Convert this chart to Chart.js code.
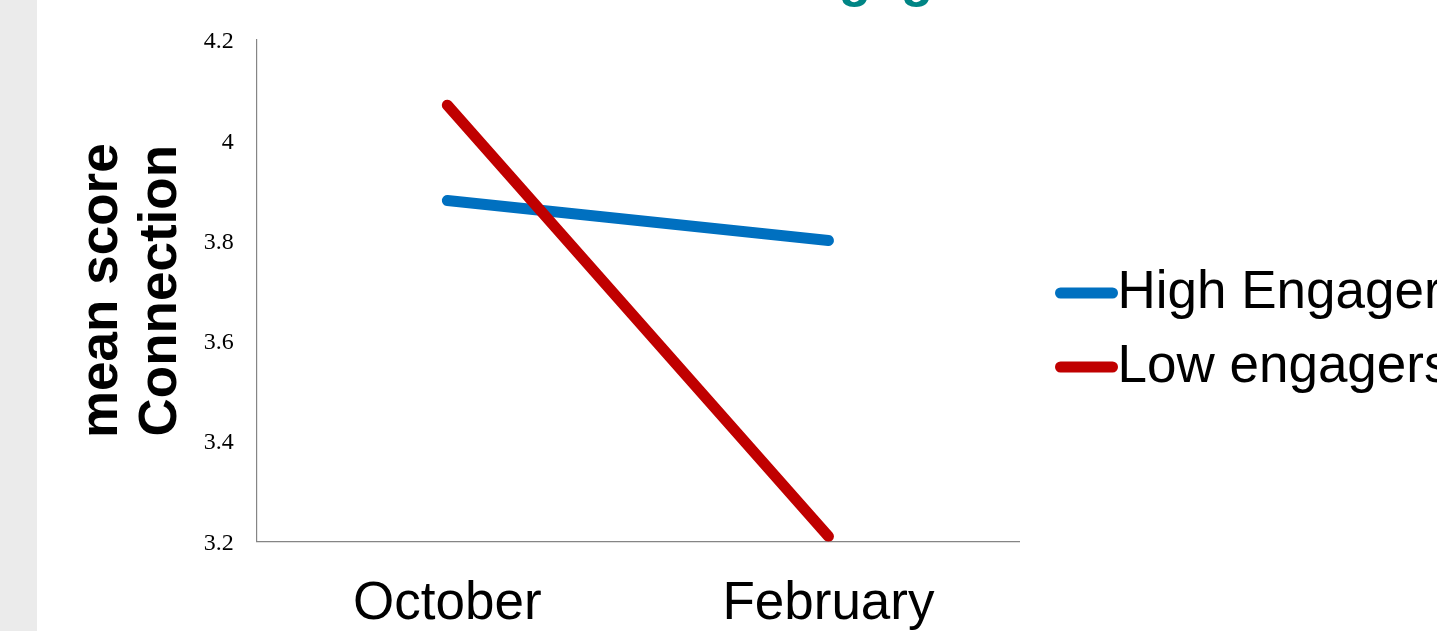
<!DOCTYPE html>
<html>
<head>
<meta charset="utf-8">
<script src="https://cdn.jsdelivr.net/npm/chart.js@4.4.1/dist/chart.umd.min.js"></script>
<style>
  html, body { margin: 0; padding: 0; width: 1437px; height: 631px; overflow: hidden; background: #fff; }
  #strip { position: absolute; left: 0; top: 0; width: 37px; height: 631px; background: #ebebeb; }
  #title { position: absolute; left: 356px; top: -49px; font: bold 53px 'Liberation Sans', Arial, sans-serif; line-height: 53px; color: #008585; white-space: nowrap; }
  #wrap { position: absolute; left: 0; top: 0; width: 1600px; height: 680px; }
</style>
</head>
<body>
<div id="strip"></div>
<div id="title">Connection and Engagement</div>
<div id="wrap"><canvas id="chart" width="1600" height="680"></canvas></div>
<script>
const months = ['October', 'February'];
const highEngagers = [3.88, 3.80];
const lowEngagers = [4.07, 3.21];
const yTicks = [3.2, 3.4, 3.6, 3.8, 4, 4.2];
const seriesNames = ['High Engagers', 'Low engagers'];
const yTitle = ['mean score', 'Connection'];

const blue = '#0070c0';
const red = '#c00000';
const axisGrey = '#858585';

// legend swatch: thick round-capped stroke that runs up to the label text
function legendLine(color) {
  const c = document.createElement('canvas');
  c.width = 107;
  c.height = 14;
  const g = c.getContext('2d');
  g.strokeStyle = color;
  g.lineWidth = 11;
  g.lineCap = 'round';
  g.beginPath();
  g.moveTo(48.5, 7);
  g.lineTo(100.5, 7);
  g.stroke();
  return c;
}

new Chart(document.getElementById('chart'), {
  type: 'line',
  data: {
    labels: months,
    datasets: [
      {
        label: seriesNames[0],
        data: highEngagers,
        borderColor: blue,
        backgroundColor: blue,
        borderWidth: 11,
        borderCapStyle: 'round',
        pointRadius: 0,
        pointHoverRadius: 0,
        pointStyle: legendLine(blue),
        order: 1
      },
      {
        label: seriesNames[1],
        data: lowEngagers,
        borderColor: red,
        backgroundColor: red,
        borderWidth: 11,
        borderCapStyle: 'round',
        pointRadius: 0,
        pointHoverRadius: 0,
        pointStyle: legendLine(red),
        order: 0
      }
    ]
  },
  options: {
    responsive: false,
    animation: false,
    // legend is wider than the window so its labels run off the right edge
    layout: { padding: { left: 0, top: 40, right: 141, bottom: 13 } },
    scales: {
      x: {
        offset: true,
        grid: { display: false, drawTicks: false },
        border: { display: true, color: axisGrey, width: 1.2 },
        ticks: {
          font: { family: 'Liberation Sans', size: 53 },
          color: '#000',
          padding: 31,
          maxRotation: 0
        }
      },
      y: {
        min: 3.2,
        max: 4.2,
        afterBuildTicks: s => { s.ticks = yTicks.map(v => ({ value: v })); },
        grid: { display: false, drawTicks: false },
        border: { display: true, color: axisGrey, width: 1.2 },
        ticks: {
          font: { family: 'Liberation Serif', size: 24 },
          color: '#000',
          padding: 23,
          labelOffset: 2,
          callback: v => String(v)
        },
        title: {
          display: true,
          text: yTitle,
          color: '#000',
          font: { family: 'Liberation Sans', size: 53, weight: 'bold', lineHeight: 1.13 },
          padding: { top: 72, bottom: -11 }
        }
      }
    },
    plugins: {
      legend: {
        position: 'right',
        align: 'start',
        maxWidth: 440,
        title: { display: true, text: '', font: { size: 10 }, padding: { top: 193.5, bottom: 0 } },
        labels: {
          usePointStyle: true,
          pointStyleWidth: 51,
          padding: 21,
          color: '#000',
          font: { family: 'Liberation Sans', size: 53 },
          sort: (a, b) => a.datasetIndex - b.datasetIndex
        }
      },
      tooltip: { enabled: false }
    }
  }
});
</script>
</body>
</html>
